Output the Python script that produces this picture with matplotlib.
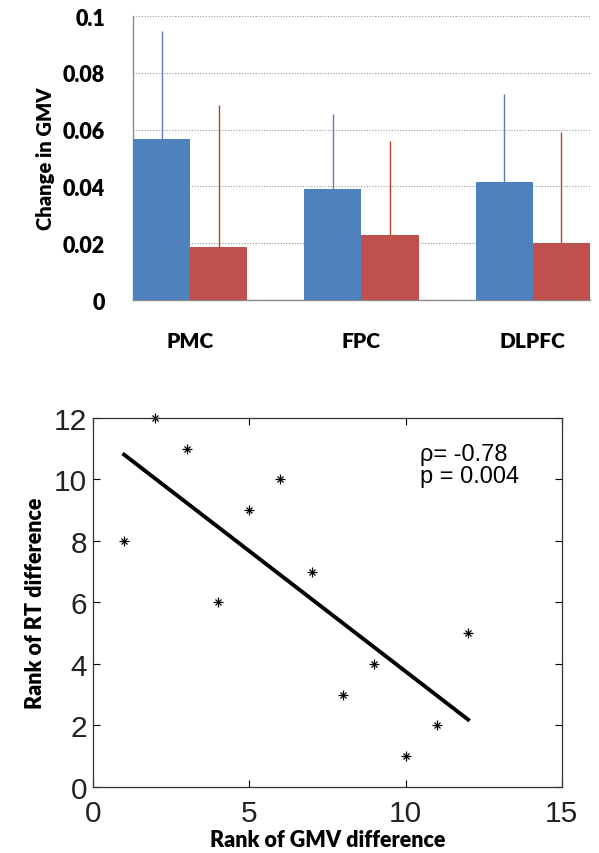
import numpy as np
import matplotlib
matplotlib.use("Agg")
import matplotlib.pyplot as plt

# bar chart data
regions = ["PMC", "FPC", "DLPFC"]
blue_vals = [0.0567, 0.0391, 0.0415]
blue_err = [0.0380, 0.0264, 0.0310]
red_vals = [0.0187, 0.0229, 0.0201]
red_err = [0.0500, 0.0331, 0.0391]
bar_yticks = [0, 0.02, 0.04, 0.06, 0.08, 0.1]
bar_ylabels = ["0", "0.02", "0.04", "0.06", "0.08", "0.1"]

# rank scatter data
gmv_rank = [1, 2, 3, 4, 5, 6, 7, 8, 9, 10, 11, 12]
rt_rank = [8, 12, 11, 6, 9, 10, 7, 3, 4, 1, 2, 5]

blue = "#4F81BD"
red = "#C0504D"
bold_font = "Lato"

fig = plt.figure(figsize=(5.99, 8.54), dpi=100)

# ---- top: bar chart ----
ax1 = fig.add_axes([0.222, 0.6475, 0.763, 0.3325])
x = np.arange(len(regions))
w = 1 / 3
ax1.bar(x - w / 2, blue_vals, w, color=blue, zorder=3)
ax1.bar(x + w / 2, red_vals, w, color=red, zorder=3)
ax1.errorbar(x - w / 2, blue_vals, yerr=[np.zeros(3), blue_err], fmt="none",
             ecolor="#5B7FAF", elinewidth=1.0, capsize=0, zorder=4)
ax1.errorbar(x + w / 2, red_vals, yerr=[np.zeros(3), red_err], fmt="none",
             ecolor="#B0462A", elinewidth=1.0, capsize=0, zorder=4)
ax1.set_xlim(-w, 2 + w)
ax1.set_ylim(0, 0.1)
ax1.set_yticks(bar_yticks)
ax1.set_yticklabels(bar_ylabels, fontfamily=bold_font, fontweight="heavy", fontsize=15.5)
ax1.set_xticks(x)
ax1.set_xticklabels(regions, fontfamily=bold_font, fontweight="heavy", fontsize=15)
ax1.tick_params(axis="y", length=0, pad=20)
ax1.tick_params(axis="x", length=0, pad=22)
ax1.yaxis.grid(True, linestyle=(0, (1, 1.5)), color="#9A9A9A", linewidth=0.8, zorder=0)
for s in ["top", "right"]:
    ax1.spines[s].set_visible(False)
for s in ["left", "bottom"]:
    ax1.spines[s].set_color("#8C8C8C")
    ax1.spines[s].set_linewidth(1.0)
ax1.set_ylabel("Change in GMV", fontfamily=bold_font, fontweight="heavy", fontsize=14.5, labelpad=6)

# ---- bottom: rank scatter ----
ax2 = fig.add_axes([0.155, 0.0773, 0.783, 0.4321])
ax2.plot(gmv_rank, rt_rank, linestyle="none", marker="+", color="black",
         markersize=7, markeredgewidth=0.9, clip_on=False)
ax2.plot(gmv_rank, rt_rank, linestyle="none", marker="x", color="black",
         markersize=4, markeredgewidth=0.9, clip_on=False)
slope, intercept = np.polyfit(gmv_rank, rt_rank, 1)
xl = np.array([min(gmv_rank), max(gmv_rank)])
ax2.plot(xl, slope * xl + intercept, color="black", linewidth=2.8)
ax2.set_xlim(0, 15)
ax2.set_ylim(0, 12)
ax2.set_xticks([0, 5, 10, 15])
ax2.set_yticks([0, 2, 4, 6, 8, 10, 12])
ax2.tick_params(direction="in", top=True, right=True, length=5, width=0.8,
                labelsize=21.5)
ax2.tick_params(axis="x", pad=9)
ax2.tick_params(axis="y", pad=4)
for lab in ax2.get_xticklabels() + ax2.get_yticklabels():
    lab.set_fontfamily("Liberation Sans")
    lab.set_color("#222222")
for s in ax2.spines.values():
    s.set_color("#333333")
    s.set_linewidth(0.9)
ax2.text(10.45, 11.2, "\u03c1= -0.78\np = 0.004", fontsize=17, fontfamily="Liberation Sans",
         va="top", ha="left", linespacing=1.0)
ax2.set_xlabel("Rank of GMV difference", fontfamily=bold_font, fontweight="heavy", fontsize=15.5, labelpad=1)
ax2.set_ylabel("Rank of RT difference", fontfamily=bold_font, fontweight="heavy", fontsize=15.5, labelpad=6)

fig.savefig("out.png", dpi=100)
